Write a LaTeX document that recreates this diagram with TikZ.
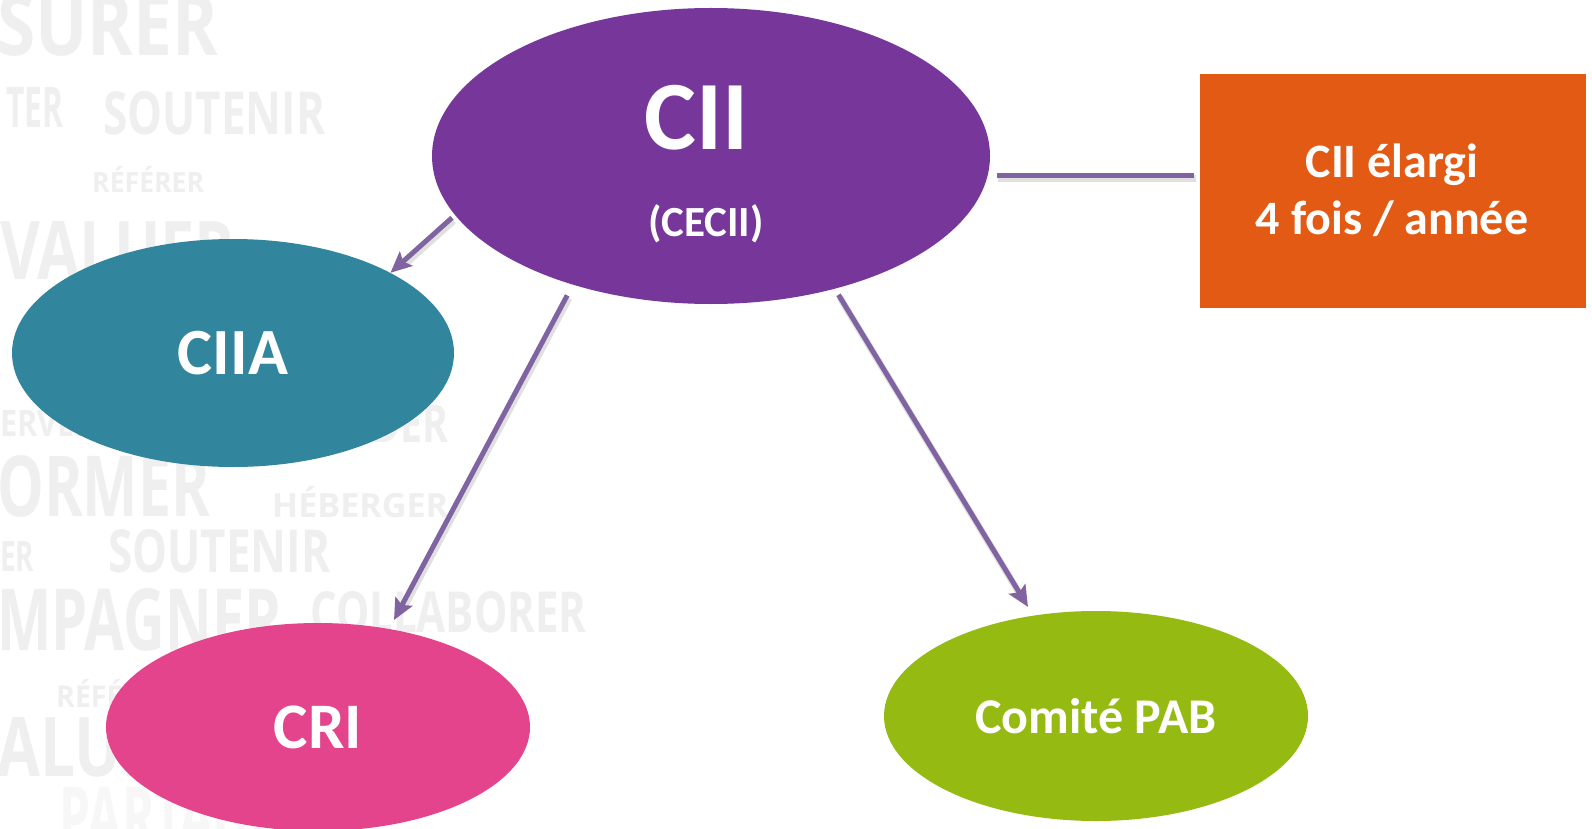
\documentclass[tikz,border=0pt]{standalone}
\usepackage{fontspec}
\setmainfont{Carlito}
\newfontfamily\bgfont{Open Sans}
\usetikzlibrary{shapes.geometric,arrows.meta}
\definecolor{ciipurple}{HTML}{76369A}
\definecolor{ciiateal}{HTML}{31859C}
\definecolor{cripink}{HTML}{E3448B}
\definecolor{pabgreen}{HTML}{95BA12}
\definecolor{boxorange}{HTML}{E35A14}
\definecolor{arrowc}{HTML}{8064A2}
\definecolor{bggray}{HTML}{EFEFEF}
\definecolor{bgfaint}{HTML}{F7F7F7}
\newcommand\setfs[1]{\fontsize{#1}{#1}\selectfont}
\newcommand\bgword[6]{\node[bgw,text=#6] (#1) at (#2) {\resizebox{#3pt}{#4pt}{\bgfont\bfseries #5}};}
\begin{document}
\begin{tikzpicture}[x=1pt,y=-1pt,
  bgw/.style={anchor=south west,inner sep=0pt},
  blob/.style={ellipse,draw=none,inner sep=0pt,text=white,font=\bfseries},
  lbl/.style={text=white,font=\bfseries,inner sep=0pt},
  conn/.style={draw=arrowc,line width=5pt},
  arr/.style={conn,-{Stealth[length=21pt,width=19pt,inset=4pt]}},
  shad/.style={draw=black,draw opacity=0.12,line width=7pt,transform canvas={shift={(1.5pt,-3pt)}}}
]
\clip (0,0) rectangle (1592,829);
\fill[white] (0,0) rectangle (1592,829);
% background word cloud
\bgword{w1}{-3,57}{221}{62}{SURER}{bggray}
\bgword{w2}{6,128}{57}{40}{TER}{bggray}
\bgword{w3}{103,135}{222}{43}{SOUTENIR}{bggray}
\bgword{w4}{92,193}{112}{26}{RÉFÉRER}{bggray}
\bgword{w5}{0,280}{235}{58}{VALUER}{bggray}
\bgword{w6}{0,437}{95}{26}{ERVER}{bggray}
\bgword{w7}{300,443}{148}{38}{GUIDER}{bggray}
\bgword{w8}{-3,518}{213}{61}{ORMER}{bggray}
\bgword{w9}{272,518}{176}{31}{HÉBERGER}{bggray}
\bgword{w10}{0,572}{34}{30}{ER}{bggray}
\bgword{w11}{108,573}{222}{43}{SOUTENIR}{bggray}
\bgword{w12}{-3,652}{285}{62}{MPAGNER}{bggray}
\bgword{w13}{310,633}{276}{41}{COLLABORER}{bggray}
\bgword{w14}{56,708}{120}{28}{RÉFÉRER}{bggray}
\bgword{w15}{-3,777}{200}{59}{ALUER}{bggray}
\bgword{w16}{59,848}{250}{60}{PARTAGER}{bgfaint}
% main shapes
\node[blob,fill=ciipurple,minimum width=558pt,minimum height=296pt] (cii) at (711,156) {};
\node[lbl,font=\bfseries\setfs{98}] (ciit) at (697,118) {CII};
\node[lbl,font=\bfseries\setfs{43}] (cecii) at (706,224) {(CECII)};
\node[blob,fill=ciiateal,minimum width=442pt,minimum height=228pt,font=\bfseries\setfs{66}] (ciia) at (233,353) {CIIA};
\node[blob,fill=cripink,minimum width=424pt,minimum height=208pt,font=\bfseries\setfs{65}] (cri) at (318,727) {CRI};
\node[blob,fill=pabgreen,minimum width=424pt,minimum height=210pt,font=\bfseries\setfs{50}] (pab) at (1096,716) {Comité PAB};
\node[fill=boxorange,minimum width=386pt,minimum height=234pt,inner sep=0pt,anchor=north west] (box) at (1200,74) {};
\node[lbl,align=center,font=\bfseries\fontsize{48}{57}\selectfont] (boxt) at (1392,190) {CII élargi\\4 fois / année};
% connector shadows
\draw[shad,shorten <=4pt,shorten >=14pt] (cii.193.5) -- (ciia.27.3);
\draw[shad,shorten <=12pt,shorten >=24pt] (cii.223.8) -- (cri.54.9);
\draw[shad,shorten <=7pt,shorten >=24pt] (cii.313.3) -- (pab.122.3);
\draw[shad,shorten <=9pt,shorten >=6pt] (cii.-4.3) -- (cii.-4.3 -| box.west);
% connectors
\draw[arr,shorten <=4pt] (cii.193.5) -- (ciia.27.3);
\draw[arr,shorten <=12pt,shorten >=10pt] (cii.223.8) -- (cri.54.9);
\draw[arr,shorten <=7pt,shorten >=10pt] (cii.313.3) -- (pab.122.3);
\draw[conn,shorten <=9pt,shorten >=6pt] (cii.-4.3) -- (cii.-4.3 -| box.west);
\end{tikzpicture}
\end{document}
